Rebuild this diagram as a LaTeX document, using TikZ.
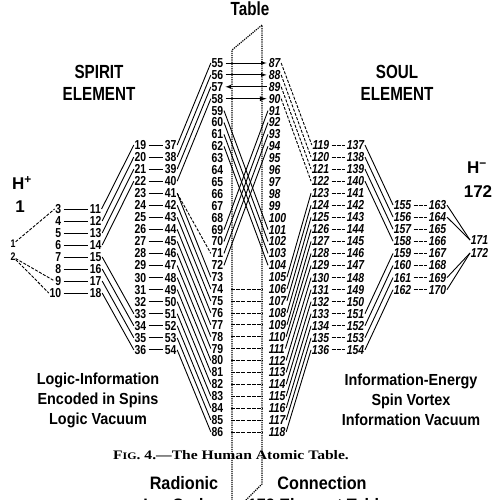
\documentclass[tikz,border=0pt]{standalone}
\usepackage{fontspec}
\setmainfont{Liberation Sans}
\newfontfamily\condfont[FakeStretch=0.8]{Liberation Sans}
\newfontfamily\parafont[FakeStretch=0.9]{Liberation Sans}
\newfontfamily\capfont{Liberation Serif}
\begin{document}
\begin{tikzpicture}[x=1pt,y=-1pt,
    lnum/.style={font=\condfont\bfseries\fontsize{13}{13}\selectfont, inner sep=0.6pt},
    rnum/.style={font=\condfont\bfseries\itshape\fontsize{13}{13}\selectfont, inner sep=0.6pt},
    head/.style={font=\condfont\bfseries\fontsize{19}{22}\selectfont, align=center},
    para/.style={font=\parafont\bfseries\fontsize{16}{20}\selectfont, align=center},
    link/.style={line width=0.9pt},
    dlink/.style={line width=0.9pt, dash pattern=on 3pt off 1.5pt},
    tie/.style={line width=0.9pt, shorten <=1.5pt, shorten >=1.5pt},
    dtie/.style={line width=0.8pt, dash pattern=on 4pt off 1.2pt, shorten <=1.5pt, shorten >=1.5pt},
    band/.style={line width=1.2pt, densely dotted}]
    \useasboundingbox (0,0) rectangle (500,500);
    % headings
    \node[head] (tabletitle) at (250,9) {Table};
    \node[head] (spirit) at (99,83) {SPIRIT\\ELEMENT};
    \node[head] (soul) at (397,83) {SOUL\\ELEMENT};
    \node[head, font=\bfseries\fontsize{17}{20}\selectfont] (hplus) at (22,183) {H\textsuperscript{+}};
    \node[head, font=\bfseries\fontsize{17}{20}\selectfont] (hone) at (20,207) {1};
    \node[head, font=\bfseries\fontsize{17}{20}\selectfont] (hminus) at (477,168) {H\textsuperscript{−}};
    \node[head, font=\bfseries\fontsize{17}{20}\selectfont] (htop) at (478,192) {172};
    % dotted band
    \draw[band] (232,505) -- (232,50) -- (262,25) -- (262,484) -- (240,506);
    % hydrogen
    \node[lnum, font=\condfont\bfseries\fontsize{11}{11}\selectfont, inner sep=0pt] (e1) at (13,244) {1};
    \node[lnum, font=\condfont\bfseries\fontsize{11}{11}\selectfont, inner sep=0pt] (e2) at (13,257) {2};
    % first column
    \foreach \k in {3,...,10} {
        \pgfmathsetmacro{\yy}{209+(\k-3)*12}
        \pgfmathtruncatemacro{\m}{\k+8}
        \node[lnum, anchor=east] (e\k) at (62,\yy) {\k};
        \node[lnum, anchor=west] (e\m) at (89,\yy) {\m};
        \draw[tie] (e\k.east) -- (e\m.west);
    }
    % second column
    \foreach \k in {19,...,36} {
        \pgfmathsetmacro{\yy}{145+(\k-19)*12.05}
        \pgfmathtruncatemacro{\m}{\k+18}
        \node[lnum, anchor=east] (e\k) at (147,\yy) {\k};
        \node[lnum, anchor=west] (e\m) at (164,\yy) {\m};
        \draw[tie] (e\k.east) -- (e\m.west);
    }
    % middle column
    \foreach \k in {55,...,86} {
        \pgfmathsetmacro{\yy}{63+(\k-55)*11.9}
        \pgfmathtruncatemacro{\m}{\k+32}
        \node[lnum, anchor=east] (e\k) at (224,\yy) {\k};
        \node[rnum, anchor=west] (e\m) at (268,\yy) {\m};
    }
    % fourth column
    \foreach \k in {119,...,136} {
        \pgfmathsetmacro{\yy}{145+(\k-119)*12.05}
        \pgfmathtruncatemacro{\m}{\k+18}
        \node[rnum, anchor=east] (e\k) at (330,\yy) {\k};
        \node[rnum, anchor=west] (e\m) at (346,\yy) {\m};
        \draw[dtie] (e\k.east) -- (e\m.west);
    }
    % fifth column
    \foreach \k in {155,...,162} {
        \pgfmathsetmacro{\yy}{205+(\k-155)*12.1}
        \pgfmathtruncatemacro{\m}{\k+8}
        \node[rnum, anchor=east] (e\k) at (412,\yy) {\k};
        \node[rnum, anchor=west] (e\m) at (428,\yy) {\m};
        \draw[dtie] (e\k.east) -- (e\m.west);
    }
    \node[rnum, anchor=west] (e171) at (470,240) {171};
    \node[rnum, anchor=west] (e172) at (470,253) {172};
    % hydrogen links
    \draw[dlink] (e1) -- (e3.west);
    \draw[dlink] (e2) -- (e9.west);
    \draw[dlink] (e2) -- (e10.west);
    \foreach \a/\b in {163/171,164/171,169/172,170/172}
        \draw[link] (e\a.east) -- (e\b.west);
    % left fans
    \foreach \a/\b in {11/19,12/20,13/21,14/22,15/33,16/34,17/35,18/36}
        \draw[link] (e\a.east) -- (e\b.west);
    \foreach \a in {37,...,40} {
        \pgfmathtruncatemacro{\b}{\a+18}
        \draw[link] (e\a.east) -- (e\b.west);
    }
    \foreach \a in {41,...,54} {
        \pgfmathtruncatemacro{\b}{\a+32}
        \draw[link] (e\a.east) -- (e\b.west);
    }
    \draw[dlink] (e41.east) -- (e71.west);
    % crossing
    \foreach \a in {59,...,62} {
        \pgfmathtruncatemacro{\b}{\a+42}
        \draw[link] (e\a.east) -- (e\b.west);
    }
    \foreach \a in {91,...,94} {
        \pgfmathtruncatemacro{\b}{\a-22}
        \draw[link] (e\a.west) -- (e\b.east);
    }
    % arrows and rungs in the band
    \draw[tie, -latex] (e55.east) -- (e87.west);
    \draw[tie, -latex] (e56.east) -- (e88.west);
    \draw[tie, latex-] (e57.east) -- (e89.west);
    \draw[tie, line width=1.3pt, -latex] (e58.east) -- (e90.west);
    \foreach \a in {74,...,86} {
        \pgfmathtruncatemacro{\b}{\a+32}
        \draw[dtie, shorten <=7pt, shorten >=5pt] (e\a.east) -- (e\b.west);
    }
    % right fans
    \foreach \a in {87,...,90} {
        \pgfmathtruncatemacro{\b}{\a+32}
        \draw[dlink] (e\a.east) -- (e\b.west);
    }
    \foreach \a in {105,...,118} {
        \pgfmathtruncatemacro{\b}{\a+18}
        \draw[link] (e\a.east) -- (e\b.west);
    }
    \foreach \a/\b in {137/155,138/156,139/157,140/158,151/159,152/160,153/161,154/162}
        \draw[link] (e\a.east) -- (e\b.west);
    % captions
    \node[para] (logic) at (98,400) {Logic-Information\\Encoded in Spins\\Logic Vacuum};
    \node[para] (energy) at (411,400) {Information-Energy\\Spin Vortex\\Information Vacuum};
    \node[font=\capfont\bfseries\fontsize{13}{15}\selectfont] (fig) at (231,455)
        {\scalebox{1.2}[1]{F{\fontsize{10}{11}\selectfont IG}. 4.—The Human Atomic Table.}};
    \node[para, font=\parafont\bfseries\fontsize{18}{20}\selectfont] (radionic) at (184,483) {Radionic};
    \node[para, font=\parafont\bfseries\fontsize{18}{20}\selectfont] (connection) at (322,483) {Connection};
    \node[para, font=\parafont\bfseries\fontsize{18}{20}\selectfont] (ioncode) at (178,505) {Ion Code};
    \node[para, font=\parafont\bfseries\fontsize{18}{20}\selectfont] (elemtable) at (318,505) {172 Element Table};
\end{tikzpicture}
\end{document}
